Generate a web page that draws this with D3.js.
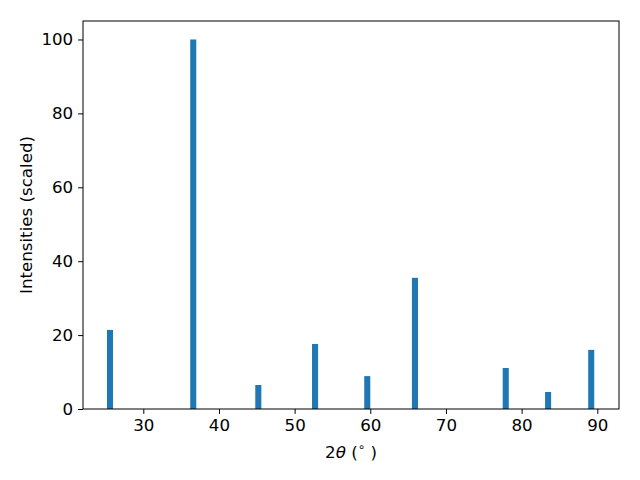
<!DOCTYPE html>
<html>
<head>
<meta charset="utf-8">
<script src="https://cdn.jsdelivr.net/npm/d3@7"></script>
<style>
  body { margin: 0; background: #fff; }
  text { font-family: "DejaVu Sans", sans-serif; }
</style>
</head>
<body>
<script>
// Data
const twoTheta = [25.6, 36.6, 45.2, 52.7, 59.6, 65.9, 77.9, 83.5, 89.2];
const intensities = [21.4, 100, 6.5, 17.6, 8.9, 35.5, 11.1, 4.6, 16.0];
const xTicks = [30, 40, 50, 60, 70, 80, 90];
const yTicks = [0, 20, 40, 60, 80, 100];
const barWidth = 0.8;

const W = 640, H = 480;
const margin = { left: 83, right: 21, top: 21, bottom: 71 };
const iw = W - margin.left - margin.right;
const ih = H - margin.top - margin.bottom;

const svg = d3.select("body").append("svg").attr("width", W).attr("height", H);
svg.append("rect").attr("width", W).attr("height", H).attr("fill", "#fff");

const x = d3.scaleLinear().domain([22.03, 92.87]).range([0, iw]);
const y = d3.scaleLinear().domain([0, 105]).range([ih, 0]);

const g = svg.append("g").attr("transform", `translate(${margin.left},${margin.top})`);

g.selectAll("rect.bar").data(twoTheta).enter().append("rect")
  .attr("class", "bar")
  .attr("x", (d) => x(d - barWidth / 2))
  .attr("width", (d) => x(d + barWidth / 2) - x(d - barWidth / 2))
  .attr("y", (d, i) => y(intensities[i]))
  .attr("height", (d, i) => y(0) - y(intensities[i]))
  .attr("fill", "#1f77b4");

const fs = "16.67px";
const xAxis = g.append("g").attr("transform", `translate(0,${ih})`)
  .call(d3.axisBottom(x).tickValues(xTicks).tickSize(4.9).tickPadding(4.9).tickFormat(d3.format("d")));
const yAxis = g.append("g")
  .call(d3.axisLeft(y).tickValues(yTicks).tickSize(4.9).tickPadding(4.9).tickFormat(d3.format("d")));
[xAxis, yAxis].forEach(a => {
  a.attr("font-size", fs).attr("font-family", "DejaVu Sans");
  a.select(".domain").remove();
  a.selectAll("text").attr("font-family", "DejaVu Sans").attr("font-size", fs).attr("fill", "#000");
  a.selectAll("line").attr("stroke", "#000").attr("stroke-width", 1);
});

// frame
g.append("rect").attr("x", 0).attr("y", 0).attr("width", iw).attr("height", ih)
  .attr("fill", "none").attr("stroke", "#000").attr("stroke-width", 1);

// x label
const xl = svg.append("text")
  .attr("x", margin.left + iw / 2).attr("y", 458)
  .attr("text-anchor", "middle").attr("font-size", fs).attr("fill", "#000");
xl.append("tspan").text("2");
xl.append("tspan").attr("font-style", "italic").text("θ");
xl.append("tspan").text(" (");
xl.append("tspan").attr("font-size", "12px").attr("dy", "-7").text("∘");
xl.append("tspan").attr("dy", "7").text(" )");

// y label
svg.append("text")
  .attr("transform", `translate(32,${margin.top + ih / 2}) rotate(-90)`)
  .attr("text-anchor", "middle").attr("font-size", fs).attr("fill", "#000")
  .text("Intensities (scaled)");
</script>
</body>
</html>
